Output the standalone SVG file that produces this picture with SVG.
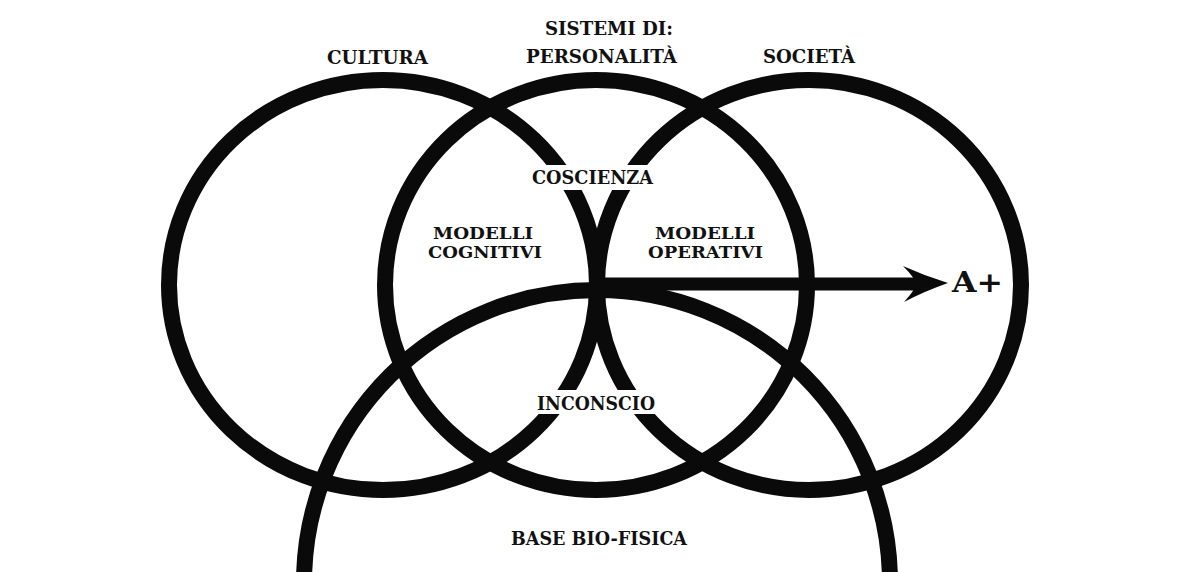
<svg xmlns="http://www.w3.org/2000/svg" width="1200" height="572" viewBox="0 0 1200 572">
<defs>
<style>
.ring{fill:none;stroke:#0a0a0a;stroke-width:16}
.lbl{font-family:"DejaVu Serif","Liberation Serif",serif;font-weight:bold;font-size:19px;fill:#111;text-anchor:middle}
.sm{font-size:17px}
.knock{fill:#ffffff}
.conn{stroke:#0a0a0a;stroke-width:13;fill:none}
.head{fill:#0a0a0a}
</style>
</defs>
<rect width="1200" height="572" fill="#ffffff"/>
<text class="lbl" x="609" y="35" textLength="128" lengthAdjust="spacingAndGlyphs">SISTEMI DI:</text>
<g id="cultura">
<ellipse class="ring" cx="383" cy="285" rx="214" ry="205"/>
<text class="lbl" x="377.5" y="64" textLength="101" lengthAdjust="spacingAndGlyphs">CULTURA</text>
</g>
<g id="personalita">
<ellipse class="ring" cx="596" cy="285" rx="211" ry="205"/>
<text class="lbl" x="601.5" y="63" textLength="151" lengthAdjust="spacingAndGlyphs">PERSONALITÀ</text>
</g>
<g id="societa">
<ellipse class="ring" cx="809" cy="285" rx="212" ry="205"/>
<text class="lbl" x="809" y="63" textLength="92" lengthAdjust="spacingAndGlyphs">SOCIETÀ</text>
</g>
<g id="base-bio-fisica">
<circle class="ring" cx="597" cy="583" r="293"/>
<text class="lbl" x="599" y="545" textLength="176" lengthAdjust="spacingAndGlyphs">BASE BIO-FISICA</text>
</g>
<g id="connectors">
<line class="conn" x1="592" y1="284" x2="916" y2="284"/>
<path class="head" d="M948,283 Q925,276 903,266 Q915,278 916,284 Q915,290 904,302 Q925,291 948,283 Z"/>
</g>
<g id="a-plus">
<text class="lbl" x="952" y="292" style="text-anchor:start;font-size:27px" textLength="51" lengthAdjust="spacingAndGlyphs">A+</text>
</g>
<g id="coscienza">
<rect class="knock" x="528" y="165" width="131" height="25"/>
<text class="lbl" x="592.5" y="184" textLength="121" lengthAdjust="spacingAndGlyphs">COSCIENZA</text>
</g>
<g id="inconscio">
<rect class="knock" x="532" y="390" width="128" height="24"/>
<text class="lbl" x="596" y="410" textLength="118" lengthAdjust="spacingAndGlyphs">INCONSCIO</text>
</g>
<g id="modelli-cognitivi">
<text class="lbl sm" x="483" y="239" textLength="100" lengthAdjust="spacingAndGlyphs">MODELLI</text>
<text class="lbl sm" x="485" y="258" textLength="114" lengthAdjust="spacingAndGlyphs">COGNITIVI</text>
</g>
<g id="modelli-operativi">
<text class="lbl sm" x="705" y="239" textLength="100" lengthAdjust="spacingAndGlyphs">MODELLI</text>
<text class="lbl sm" x="705.5" y="258" textLength="115" lengthAdjust="spacingAndGlyphs">OPERATIVI</text>
</g>
</svg>
